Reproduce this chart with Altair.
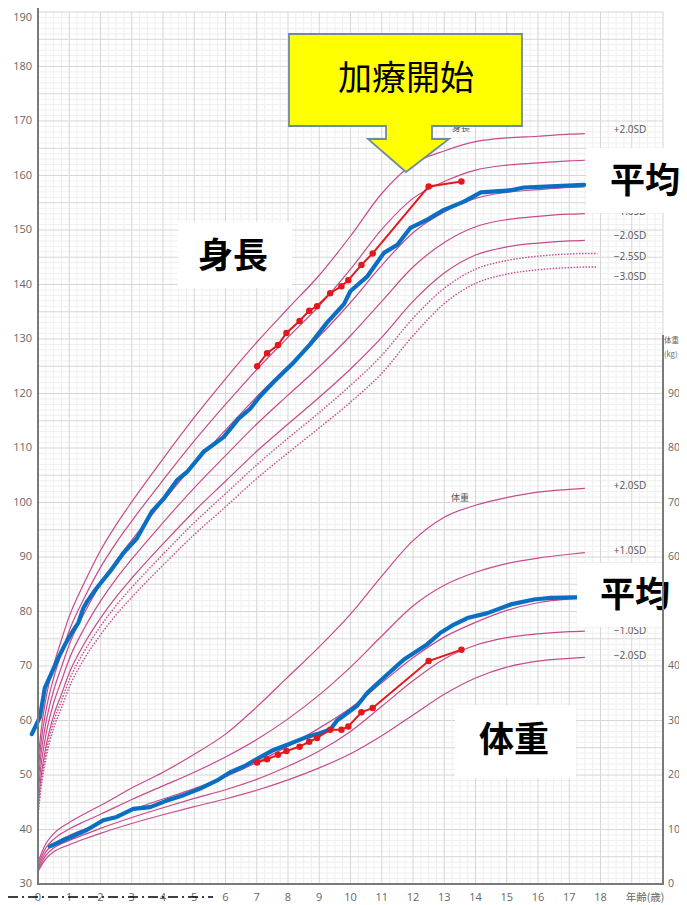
import altair as alt
import pandas as pd

# ---------------- layout helpers (page pixels -> plot pixels) ----------------
X0, Y0 = 38, 12          # plot origin on the page
W, H = 625, 872          # plot area


def px(x):
    return x - X0


def py(y):
    return y - Y0


# ---------------- data ----------------
# height reference curves (cm), girls
H_AGES = [0, 0.1, 0.25, 0.5, 0.75, 1, 1.5, 2, 2.5, 3, 4, 5, 6, 7, 8, 9, 10, 11, 12, 13, 14, 15, 16, 17, 17.5]
H_P2 = [52.5, 58.2, 63.9, 70.1, 74.8, 79.1, 85.5, 91.2, 95.9, 100.1, 108.0, 115.6, 122.7, 129.4, 135.6, 141.7, 148.9, 156.7, 162.1, 164.5, 166.2, 166.9, 167.2, 167.6, 167.7]
H_P1 = [50.5, 56.1, 61.7, 67.8, 72.3, 76.5, 82.7, 88.1, 92.6, 96.6, 104.1, 111.3, 118.0, 124.4, 130.3, 136.1, 142.8, 150.1, 155.8, 158.9, 161.0, 161.9, 162.3, 162.7, 162.8]
H_M = [48.5, 54.0, 59.5, 65.5, 69.8, 73.9, 79.9, 85.0, 89.3, 93.1, 100.2, 107.0, 113.3, 119.4, 125.0, 130.5, 136.7, 143.5, 149.5, 153.3, 155.8, 156.9, 157.4, 157.8, 157.9]
H_M1 = [46.5, 51.9, 57.3, 63.2, 67.3, 71.3, 77.1, 81.9, 86.0, 89.6, 96.3, 102.7, 108.6, 114.4, 119.7, 124.9, 130.6, 136.9, 143.2, 147.7, 150.6, 151.9, 152.5, 152.9, 153.0]
H_M2 = [44.5, 49.8, 55.1, 60.9, 64.8, 68.7, 74.3, 78.8, 82.7, 86.1, 92.4, 98.4, 103.9, 109.4, 114.4, 119.3, 124.5, 130.3, 136.9, 142.1, 145.4, 146.9, 147.6, 148.0, 148.1]
H_AGES_DOT = H_AGES + [17.9]
H_M25 = [43.5, 48.8, 54.0, 59.8, 63.6, 67.4, 72.9, 77.3, 81.1, 84.4, 90.5, 96.3, 101.6, 106.9, 111.8, 116.5, 121.5, 127.0, 133.8, 139.3, 142.8, 144.4, 145.2, 145.6, 145.7, 145.7]
H_M3 = [42.5, 47.7, 52.9, 58.6, 62.3, 66.1, 71.5, 75.7, 79.4, 82.6, 88.5, 94.1, 99.2, 104.4, 109.1, 113.7, 118.4, 123.7, 130.6, 136.5, 140.2, 141.9, 142.7, 143.1, 143.2, 143.2]

# weight reference curves (kg), girls
W_AGES = [0, 0.25, 0.5, 1, 1.5, 2, 3, 4, 5, 6, 7, 8, 9, 10, 11, 12, 13, 14, 15, 16, 17, 17.5]
W_P2 = [4.0, 7.4, 9.2, 11.3, 12.9, 14.4, 17.6, 20.5, 23.8, 27.5, 32.5, 38.0, 43.5, 49.5, 56.5, 63.0, 67.3, 69.5, 70.9, 71.9, 72.4, 72.6]
W_P1 = [3.5, 6.6, 8.2, 10.1, 11.5, 12.8, 15.5, 18.0, 20.5, 23.3, 26.5, 30.3, 34.7, 39.8, 45.5, 51.0, 54.8, 57.2, 58.8, 59.8, 60.5, 60.8]
W_M = [3.0, 5.9, 7.3, 8.9, 10.1, 11.3, 13.6, 15.6, 17.5, 19.7, 22.3, 25.3, 28.6, 32.3, 36.9, 41.5, 45.3, 48.0, 50.2, 51.6, 52.3, 52.5]
W_M1 = [2.6, 5.2, 6.6, 8.0, 9.1, 10.2, 12.2, 14.0, 15.7, 17.3, 19.2, 21.6, 24.4, 28.0, 32.6, 37.3, 41.3, 43.8, 45.2, 45.9, 46.3, 46.4]
W_M2 = [2.3, 4.6, 5.9, 7.2, 8.3, 9.3, 11.1, 12.7, 14.2, 15.6, 17.2, 19.1, 21.3, 23.9, 27.2, 31.0, 34.8, 37.8, 39.8, 40.9, 41.4, 41.6]

# blue "平均" lines
BH_AGES = [-0.2, 0.06, 0.22, 0.44, 0.65, 0.87, 1.08, 1.29, 1.45, 1.58, 1.88, 2.31, 2.73, 3.16, 3.64, 4.02, 4.45, 4.77, 5.30, 5.94, 6.42, 6.79, 7.12, 7.54, 8.18, 8.72, 9.25, 9.79, 10.0, 10.54, 11.07, 11.5, 11.92, 12.46, 12.99, 13.63, 14.17, 15.13, 15.55, 16.41, 17.48]
BH_VALS = [57.5, 60.6, 66.0, 68.8, 71.5, 74.0, 76.1, 77.9, 80.6, 81.9, 84.3, 87.4, 90.7, 93.4, 98.3, 100.7, 104.1, 105.6, 109.3, 112.0, 115.4, 117.2, 119.6, 122.1, 125.7, 129.1, 133.0, 136.4, 138.8, 141.5, 145.8, 147.3, 150.4, 151.9, 153.7, 155.2, 156.9, 157.3, 157.8, 158.0, 158.3]
BW_AGES = [0.38, 0.92, 1.56, 2.09, 2.52, 3.05, 3.59, 4.12, 4.66, 5.19, 5.73, 6.15, 6.6, 7.0, 7.54, 8.0, 8.61, 9.0, 9.36, 9.57, 10.21, 10.54, 11.07, 11.71, 12.46, 12.88, 13.31, 13.74, 14.38, 15.13, 15.87, 16.41, 17.21, 17.48]
BW_VALS = [6.9, 8.3, 9.9, 11.7, 12.3, 13.8, 14.1, 15.3, 16.3, 17.5, 19.0, 20.5, 21.6, 22.9, 24.6, 25.6, 27.0, 27.6, 28.4, 30.0, 32.7, 35.1, 37.9, 41.2, 44.0, 46.1, 47.6, 48.8, 49.7, 51.3, 52.2, 52.5, 52.6, 52.6]

# patient (red)
P_AGES = [7.01, 7.33, 7.68, 7.95, 8.37, 8.68, 8.93, 9.35, 9.71, 9.93, 10.35, 10.71, 12.5, 13.55]
P_HEIGHT = [125.0, 127.4, 128.9, 131.1, 133.3, 135.2, 136.0, 138.4, 139.7, 140.8, 143.6, 145.7, 158.0, 158.9]
P_WEIGHT = [22.3, 22.9, 23.7, 24.4, 25.2, 26.1, 26.8, 28.3, 28.3, 28.9, 31.5, 32.3, 40.9, 43.0]

X_TICKS = list(range(0, 19))
H_TICKS = list(range(30, 181, 10))
H_TOP_TICK = [190]
W_TICKS = [0, 10, 20, 30, 40, 60, 70, 80, 90]   # 50 is hidden behind the "平均" box

# ---------------- styles ----------------
PINK = "#c84a8c"
BLUE = "#0a6fc2"
RED = "#e3181f"
AXIS_GRAY = "#7a7a7a"
LABEL_GRAY = "#666666"
NUM_FONT = "Open Sans"
JP_FONT = "Noto Sans CJK JP"


def long(ages, series):
    rows = []
    for name, vals in series.items():
        for a, v in zip(ages, vals):
            rows.append({"age": a, "v": v, "sd": name})
    return pd.DataFrame(rows)


xs = alt.Scale(domain=[0, 20], nice=False, zero=False)
hs = alt.Scale(domain=[30, 190], nice=False, zero=False)
ws = alt.Scale(domain=[0, 160], nice=False, zero=False)

XA = dict(scale=xs, axis=None)

# ---------------- grid ----------------
minor_x = pd.DataFrame({"age": [i / 4 for i in range(1, 80) if i % 4]})
major_x = pd.DataFrame({"age": list(range(1, 21))})
minor_y = pd.DataFrame({"v": [h for h in range(31, 190) if h % 5]})
major_y = pd.DataFrame({"v": list(range(35, 191, 5))})

g1 = alt.Chart(minor_x).mark_rule(color="#efefef", strokeWidth=1).encode(
    x=alt.X("age:Q", **XA))
g2 = alt.Chart(minor_y).mark_rule(color="#efefef", strokeWidth=1).encode(
    y=alt.Y("v:Q", scale=hs, axis=None))
g3 = alt.Chart(major_x).mark_rule(color="#d6d6d6", strokeWidth=1).encode(
    x=alt.X("age:Q", **XA))
g4 = alt.Chart(major_y).mark_rule(color="#d6d6d6", strokeWidth=1).encode(
    y=alt.Y("v:Q", scale=hs, axis=None))

# axis labels drawn as text through the scales
x_lab = alt.Chart(pd.DataFrame({"age": X_TICKS})).mark_text(
    font=NUM_FONT, fontSize=11, color=LABEL_GRAY, baseline="middle", align="center").encode(
    x=alt.X("age:Q", **XA), y=alt.value(py(898)), text="age:Q")
h_lab = alt.Chart(pd.DataFrame({"v": H_TICKS})).mark_text(
    font=NUM_FONT, fontSize=11, color=LABEL_GRAY, baseline="middle", align="right").encode(
    x=alt.value(-6), y=alt.Y("v:Q", scale=hs, axis=None), text="v:Q")
h_lab_top = alt.Chart(pd.DataFrame({"v": H_TOP_TICK})).mark_text(
    font=NUM_FONT, fontSize=11, color=LABEL_GRAY, baseline="top", align="right", dy=0).encode(
    x=alt.value(-6), y=alt.Y("v:Q", scale=hs, axis=None), text="v:Q")

# ---------------- height layers ----------------
h_solid = long(H_AGES, {"+2.0SD": H_P2, "+1.0SD": H_P1, "mean": H_M, "-1.0SD": H_M1, "-2.0SD": H_M2})
h_dot = long(H_AGES_DOT, {"-2.5SD": H_M25, "-3.0SD": H_M3})

hc = alt.Chart(h_solid).mark_line(color=PINK, strokeWidth=1.2, interpolate="monotone").encode(
    x=alt.X("age:Q", **XA), y=alt.Y("v:Q", scale=hs, axis=None), detail="sd:N")
hd = alt.Chart(h_dot).mark_line(color=PINK, strokeWidth=1.4, strokeDash=[1.5, 1.5],
                                interpolate="monotone").encode(
    x=alt.X("age:Q", **XA), y=alt.Y("v:Q", scale=hs, axis=None), detail="sd:N")
hb = alt.Chart(pd.DataFrame({"age": BH_AGES, "v": BH_VALS})).mark_line(
    color=BLUE, strokeWidth=4.2, strokeJoin="round", strokeCap="round").encode(
    x=alt.X("age:Q", **XA), y=alt.Y("v:Q", scale=hs, axis=None))
p_h = pd.DataFrame({"age": P_AGES, "v": P_HEIGHT})
hr = alt.Chart(p_h).mark_line(color=RED, strokeWidth=2).encode(
    x=alt.X("age:Q", **XA), y=alt.Y("v:Q", scale=hs, axis=None))
hp = alt.Chart(p_h).mark_circle(color=RED, size=42, opacity=1).encode(
    x=alt.X("age:Q", **XA), y=alt.Y("v:Q", scale=hs, axis=None))

height_group = alt.layer(g1, g2, g3, g4, x_lab, h_lab, h_lab_top, hc, hd, hb, hr, hp)

# ---------------- weight layers ----------------
w_solid = long(W_AGES, {"+2.0SD": W_P2, "+1.0SD": W_P1, "mean": W_M, "-1.0SD": W_M1, "-2.0SD": W_M2})
wc = alt.Chart(w_solid).mark_line(color=PINK, strokeWidth=1.2, interpolate="monotone").encode(
    x=alt.X("age:Q", **XA), y=alt.Y("v:Q", scale=ws, axis=None), detail="sd:N")
wb = alt.Chart(pd.DataFrame({"age": BW_AGES, "v": BW_VALS})).mark_line(
    color=BLUE, strokeWidth=4.2, strokeJoin="round", strokeCap="round").encode(
    x=alt.X("age:Q", **XA), y=alt.Y("v:Q", scale=ws, axis=None))
p_w = pd.DataFrame({"age": P_AGES, "v": P_WEIGHT})
wr = alt.Chart(p_w).mark_line(color=RED, strokeWidth=2).encode(
    x=alt.X("age:Q", **XA), y=alt.Y("v:Q", scale=ws, axis=None))
wp = alt.Chart(p_w).mark_circle(color=RED, size=42, opacity=1).encode(
    x=alt.X("age:Q", **XA), y=alt.Y("v:Q", scale=ws, axis=None))
w_lab = alt.Chart(pd.DataFrame({"v": W_TICKS})).mark_text(
    font=NUM_FONT, fontSize=10.5, color=LABEL_GRAY, baseline="middle", align="left").encode(
    x=alt.value(W + 5), y=alt.Y("v:Q", scale=ws, axis=None), text="v:Q")

weight_group = alt.layer(wc, wb, wr, wp, w_lab)

# ---------------- annotations (pixel positions) ----------------
one = pd.DataFrame({"k": [0]})

sd_labels = pd.DataFrame({
    "x": [px(630)] * 9,
    "y": [py(v) for v in [130, 212, 236, 257, 277, 486, 551, 631, 656]],
    "t": ["+2.0SD", "\u22121.0SD", "\u22122.0SD", "\u22122.5SD", "\u22123.0SD",
          "+2.0SD", "+1.0SD", "\u22121.0SD", "\u22122.0SD"],
})
sd_text = alt.Chart(sd_labels).mark_text(font=NUM_FONT, fontSize=10, color="#555555",
                                         align="center", baseline="middle").encode(
    x=alt.X("x:Q", scale=None, axis=None), y=alt.Y("y:Q", scale=None, axis=None), text="t:N")

small_labels = pd.DataFrame({"x": [px(461), px(460)], "y": [py(128), py(498)], "t": ["身長", "体重"]})
small_text = alt.Chart(small_labels).mark_text(font=JP_FONT, fontSize=9, color="#555555",
                                               align="center", baseline="middle").encode(
    x=alt.X("x:Q", scale=None, axis=None), y=alt.Y("y:Q", scale=None, axis=None), text="t:N")

boxes = pd.DataFrame({
    "x1": [px(178), px(586), px(577), px(455)],
    "x2": [px(292), px(700), px(700), px(576)],
    "y1": [py(222), py(148), py(563), py(705)],
    "y2": [py(288), py(213), py(627), py(778)],
})
white = alt.Chart(boxes).mark_rect(color="white", opacity=1).encode(
    x=alt.X("x1:Q", scale=None, axis=None), x2="x2:Q",
    y=alt.Y("y1:Q", scale=None, axis=None), y2="y2:Q")

big_labels = pd.DataFrame({
    "x": [px(233), px(645), px(635), px(514)],
    "y": [py(257), py(182), py(596), py(741)],
    "t": ["身長", "平均", "平均", "体重"],
})
big_text = alt.Chart(big_labels).mark_text(font=JP_FONT, fontSize=35, fontWeight="bold",
                                           color="black", align="center", baseline="middle").encode(
    x=alt.X("x:Q", scale=None, axis=None), y=alt.Y("y:Q", scale=None, axis=None), text="t:N")

CALLOUT = ("M -117 -92 L 116 -92 L 116 0 L 26 0 L 26 13 L 43 13 L 0 46 "
           "L -38 13 L -20 13 L -20 0 L -117 0 Z")
callout = alt.Chart(one).mark_point(shape=CALLOUT, size=4, filled=True, color="#ffff00",
                                    fillOpacity=1, stroke="#7088a8", strokeWidth=1.8,
                                    strokeOpacity=1, opacity=1).encode(
    x=alt.value(px(406)), y=alt.value(py(126)))
callout_text = alt.Chart(one).mark_text(text="加療開始", font=JP_FONT, fontSize=34,
                                        color="black", align="center", baseline="middle").encode(
    x=alt.value(px(406)), y=alt.value(py(80)))

axis_left = alt.Chart(one).mark_rule(color=AXIS_GRAY, strokeWidth=2).encode(
    x=alt.value(0), y=alt.value(-4), y2=alt.value(H + 1))
axis_bottom = alt.Chart(one).mark_rule(color=AXIS_GRAY, strokeWidth=2).encode(
    x=alt.value(-1), x2=alt.value(W + 1), y=alt.value(H))
axis_right = alt.Chart(one).mark_rule(color=AXIS_GRAY, strokeWidth=2).encode(
    x=alt.value(W), y=alt.value(py(335)), y2=alt.value(H + 1))
w_title = pd.DataFrame({"x": [px(664), px(664)], "y": [py(341), py(355)], "t": ["体重", "(kg)"]})
w_title_text = alt.Chart(w_title).mark_text(font=JP_FONT, fontSize=7.5, color=LABEL_GRAY,
                                            align="left", baseline="middle").encode(
    x=alt.X("x:Q", scale=None, axis=None), y=alt.Y("y:Q", scale=None, axis=None), text="t:N")
age_title = alt.Chart(one).mark_text(text="年齢(歳)", font=JP_FONT, fontSize=10.5, color=LABEL_GRAY,
                                     align="center", baseline="middle").encode(
    x=alt.value(px(645)), y=alt.value(py(898)))
dash_line = alt.Chart(one).mark_rule(color="black", strokeWidth=1.5, strokeDash=[10, 4, 2, 4]).encode(
    x=alt.value(-30), x2=alt.value(px(213)), y=alt.value(py(897)))

annot_group = alt.layer(sd_text, small_text, white, big_text, callout, callout_text,
                        axis_left, axis_bottom, axis_right, w_title_text, age_title, dash_line)

chart = alt.layer(height_group, weight_group, annot_group).resolve_scale(
    y="independent"
).properties(
    width=W, height=H,
    autosize=alt.AutoSizeParams(type="none"),
    padding={"left": 30, "top": 4, "right": 16, "bottom": 21},
).configure_view(stroke=None)

chart.save("out.html", embed_options={"renderer": "svg", "actions": False})
